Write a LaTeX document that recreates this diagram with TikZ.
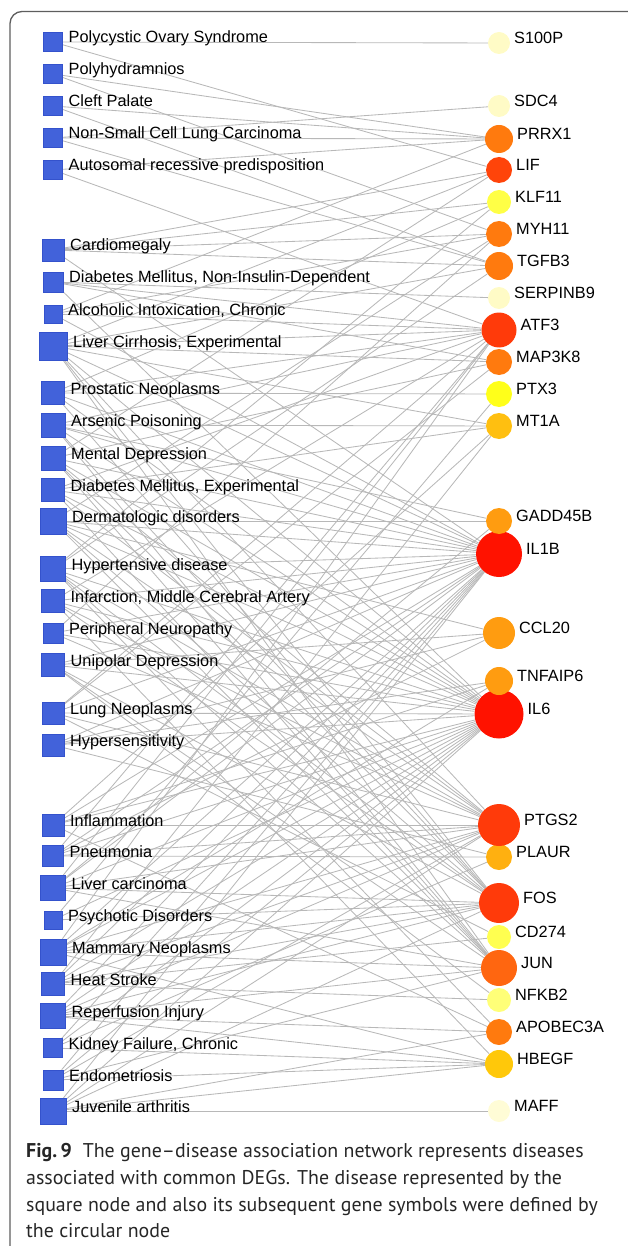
\documentclass[tikz,border=0pt]{standalone}
\usepackage{fontspec}
\setmainfont{Liberation Sans}
\newfontfamily\capfont{PT Sans}
\usetikzlibrary{backgrounds}
\definecolor{sqblue}{HTML}{4262DA}
\definecolor{sqedge}{HTML}{3452CC}
\definecolor{edgegray}{HTML}{B8B8B8}
\definecolor{framegray}{HTML}{5E5E5E}
\definecolor{cPale}{HTML}{FFFBC6}
\definecolor{cPaler}{HTML}{FFFCD6}
\definecolor{cOrange}{HTML}{FF7A0E}
\definecolor{cRedOr}{HTML}{FF440A}
\definecolor{cRedOrB}{HTML}{FF3A0A}
\definecolor{cJun}{HTML}{FF6610}
\definecolor{cYel}{HTML}{FFFF46}
\definecolor{cYelB}{HTML}{FFFF1A}
\definecolor{cYelC}{HTML}{FFFF50}
\definecolor{cYelD}{HTML}{FFFF78}
\definecolor{cAmber}{HTML}{FFBF10}
\definecolor{cAmberB}{HTML}{FFC80A}
\definecolor{cAmberC}{HTML}{FFB010}
\definecolor{cLOr}{HTML}{FF9C10}
\definecolor{cRed}{HTML}{FF1200}
\tikzset{
  dnode/.style={rectangle, fill=sqblue, draw=sqedge, line width=0.5pt, inner sep=0pt},
  gnode/.style={circle, draw=none, inner sep=0pt},
  dlab/.style={inner sep=0pt, font=\fontsize{16.3}{19}\selectfont, text=black},
  glab/.style={inner sep=0pt, font=\fontsize{16.3}{19}\selectfont, text=black},
  edge/.style={draw=edgegray, line width=0.85pt},
  capt/.style={inner sep=0pt, font=\capfont\fontsize{19.9}{26}\selectfont, text=black!85},
}
\newcommand\ds[4]{%
  \node[dnode, minimum size={#3}] (#1) at (53,#2) {};
  \node[dlab, anchor=base west] (l#1) at ({53+#3/2+6},{#2+1}) {#4};}
\newcommand\gn[4]{%
  \node[gnode, fill=#4, minimum size={2*#3}] (#1) at (499,#2) {};
  \node[glab, anchor=base west] (l#1) at ({499+#3+4},{#2+0.5}) {#1};}
\begin{document}
\begin{tikzpicture}[x=1pt,y=-1pt]
\useasboundingbox (0,0) rectangle (627,1246);
\draw[framegray, line width=1.3pt, rounded corners=12pt] (628,11.5) -- (10,11.5) -- (10,1247);
% diseases
\ds{d1}{42}{19}{Polycystic Ovary Syndrome}
\ds{d2}{74}{19}{Polyhydramnios}
\ds{d3}{106}{19}{Cleft Palate}
\ds{d4}{138}{19}{Non-Small Cell Lung Carcinoma}
\ds{d5}{170}{19}{Autosomal recessive predisposition}
\ds{d6}{250}{22}{Cardiomegaly}
\ds{d7}{282}{20}{Diabetes Mellitus, Non-Insulin-Dependent}
\ds{d8}{314}{18}{Alcoholic Intoxication, Chronic}
\ds{d9}{346}{28}{Liver Cirrhosis, Experimental}
\ds{d10}{393}{23}{Prostatic Neoplasms}
\ds{d11}{425}{24}{Arsenic Poisoning}
\ds{d12}{458}{24}{Mental Depression}
\ds{d13}{490}{23}{Diabetes Mellitus, Experimental}
\ds{d14}{521}{26}{Dermatologic disorders}
\ds{d15}{569}{25}{Hypertensive disease}
\ds{d16}{601}{23}{Infarction, Middle Cerebral Artery}
\ds{d17}{633}{20}{Peripheral Neuropathy}
\ds{d18}{665}{23}{Unipolar Depression}
\ds{d19}{713}{22}{Lung Neoplasms}
\ds{d20}{745}{22}{Hypersensitivity}
\ds{d21}{825}{22}{Inflammation}
\ds{d22}{856}{21}{Pneumonia}
\ds{d23}{888}{25}{Liver carcinoma}
\ds{d24}{920}{18}{Psychotic Disorders}
\ds{d25}{952}{26}{Mammary Neoplasms}
\ds{d26}{984}{23}{Heat Stroke}
\ds{d27}{1016}{25}{Reperfusion Injury}
\ds{d28}{1048}{19}{Kidney Failure, Chronic}
\ds{d29}{1080}{20}{Endometriosis}
\ds{d30}{1111}{26}{Juvenile arthritis}
% genes
\gn{S100P}{43}{11}{cPale}
\gn{SDC4}{106}{11}{cPale}
\gn{PRRX1}{139}{14}{cOrange}
\gn{LIF}{170}{13}{cRedOr}
\gn{KLF11}{202}{12}{cYel}
\gn{MYH11}{234}{13}{cOrange}
\gn{TGFB3}{266}{14}{cOrange}
\gn{SERPINB9}{298}{11}{cPale}
\gn{ATF3}{330}{17.5}{cRedOrB}
\gn{MAP3K8}{362}{13}{cOrange}
\gn{PTX3}{394}{13}{cYelB}
\gn{MT1A}{426}{13}{cAmber}
\gn{IL1B}{554}{23}{cRed}
\gn{GADD45B}{521}{13}{cLOr}
\gn{CCL20}{633}{16}{cLOr}
\gn{IL6}{714}{24.5}{cRed}
\gn{TNFAIP6}{681}{14}{cLOr}
\gn{PLAUR}{857}{13}{cAmberC}
\gn{PTGS2}{825}{21}{cRedOrB}
\gn{FOS}{903}{20}{cRedOrB}
\gn{CD274}{937}{12}{cYelC}
\gn{JUN}{968}{18}{cJun}
\gn{NFKB2}{1000}{12}{cYelD}
\gn{APOBEC3A}{1032}{13}{cOrange}
\gn{HBEGF}{1064}{14}{cAmberB}
\gn{MAFF}{1111}{11}{cPaler}
% edges
\begin{pgfonlayer}{background}
\foreach \s/\t in {
 d1/S100P, d1/LIF,
 d2/PRRX1, d2/MYH11,
 d3/PRRX1, d3/TGFB3,
 d4/SDC4, d4/PRRX1, d4/TGFB3,
 d5/PRRX1, d5/ATF3,
 d6/LIF, d6/KLF11, d6/MYH11, d6/TGFB3, d6/IL1B,
 d7/SERPINB9, d7/ATF3, d7/IL6, d7/MAP3K8,
 d8/PRRX1, d8/MYH11, d8/ATF3, d8/IL1B,
 d9/LIF, d9/TGFB3, d9/ATF3, d9/MAP3K8, d9/MT1A, d9/IL1B, d9/IL6, d9/PTGS2, d9/FOS, d9/JUN,
 d10/KLF11, d10/ATF3, d10/PTX3, d10/IL1B, d10/IL6, d10/FOS,
 d11/ATF3, d11/MT1A, d11/IL1B, d11/IL6, d11/FOS, d11/JUN, d11/GADD45B,
 d12/LIF, d12/MAP3K8, d12/IL1B, d12/IL6, d12/PTGS2, d12/FOS, d12/JUN,
 d13/ATF3, d13/MT1A, d13/IL1B, d13/IL6, d13/PTGS2, d13/JUN,
 d14/MYH11, d14/GADD45B, d14/IL1B, d14/IL6, d14/CCL20, d14/PTGS2, d14/FOS, d14/JUN,
 d15/KLF11, d15/TGFB3, d15/IL1B, d15/IL6, d15/PTGS2, d15/FOS, d15/JUN, d15/APOBEC3A,
 d16/ATF3, d16/IL1B, d16/IL6, d16/PTGS2, d16/FOS, d16/HBEGF,
 d17/MYH11, d17/IL1B, d17/IL6, d17/PTGS2,
 d18/IL1B, d18/IL6, d18/CCL20, d18/FOS, d18/JUN, d18/NFKB2,
 d19/MAP3K8, d19/ATF3, d19/IL1B, d19/IL6, d19/PTGS2, d19/CD274,
 d20/CCL20, d20/IL1B, d20/IL6, d20/TNFAIP6, d20/PLAUR,
 d21/IL1B, d21/IL6, d21/PTGS2, d21/TNFAIP6, d21/APOBEC3A, d21/MT1A,
 d22/IL1B, d22/IL6, d22/CCL20, d22/PTGS2, d22/PLAUR, d22/ATF3,
 d23/ATF3, d23/GADD45B, d23/IL1B, d23/IL6, d23/PTGS2, d23/FOS, d23/JUN,
 d24/PTX3, d24/IL6, d24/FOS,
 d25/ATF3, d25/IL1B, d25/IL6, d25/TNFAIP6, d25/PTGS2, d25/FOS, d25/JUN, d25/HBEGF,
 d26/MT1A, d26/IL1B, d26/IL6, d26/PTGS2, d26/FOS, d26/CD274, d26/NFKB2,
 d27/IL1B, d27/IL6, d27/PTGS2, d27/FOS, d27/JUN, d27/APOBEC3A, d27/HBEGF,
 d28/IL6, d28/IL1B, d28/PLAUR, d28/HBEGF,
 d29/IL1B, d29/IL6, d29/JUN, d29/PTGS2, d29/HBEGF,
 d30/MAFF, d30/IL1B, d30/IL6, d30/PTGS2, d30/FOS, d30/HBEGF, d30/APOBEC3A}
 {\draw[edge] (\s) -- (\t);}
\end{pgfonlayer}
% caption
\node[capt, anchor=base west] (cap1) at (26,1157) {\textbf{Fig.\,9}\hspace{0.55em}The gene–disease association network represents diseases};
\node[capt, anchor=base west] (cap2) at (26,1184) {associated with common DEGs. The disease represented by the};
\node[capt, anchor=base west] (cap3) at (26,1211) {square node and also its subsequent gene symbols were defined by};
\node[capt, anchor=base west] (cap4) at (26,1237) {the circular node};
\end{tikzpicture}
\end{document}
